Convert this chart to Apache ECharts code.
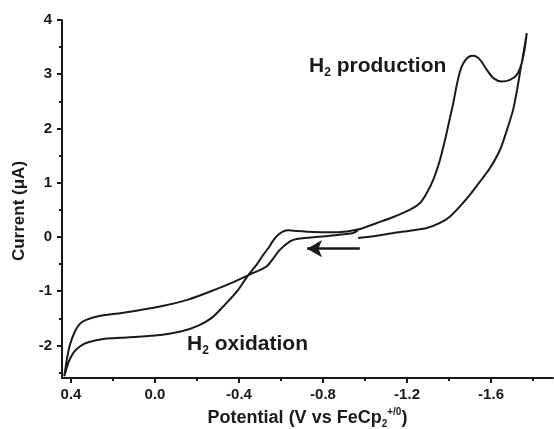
<!DOCTYPE html>
<html>
<head>
<meta charset="utf-8">
<script src="https://cdn.jsdelivr.net/npm/echarts@6/dist/echarts.min.js"></script>
<style>
  html, body { margin: 0; padding: 0; background: #fff; }
  #chart { width: 554px; height: 429px; }
</style>
</head>
<body>
<div id="chart"></div>
<script>
// sweep: start at -0.97 V, go negative to -1.77 V, back to +0.43 V, return to -0.97 V
const potential = [
  // forward, towards -1.77 V
  -0.967, -1.056, -1.135, -1.214, -1.294, -1.357, -1.405, -1.452, -1.500, -1.548,
  -1.595, -1.643, -1.676, -1.705, -1.724, -1.740, -1.757, -1.770,
  // back, H2 production wave
  -1.762, -1.746, -1.722, -1.690, -1.651, -1.611, -1.580, -1.548, -1.516, -1.492,
  -1.468, -1.452, -1.437, -1.420, -1.400, -1.381, -1.357, -1.325, -1.294, -1.262,
  -1.214, -1.135, -1.056, -0.976, -0.913, -0.833, -0.754, -0.675, -0.635, -0.611,
  -0.587, -0.563, -0.540, -0.516, -0.484, -0.452, -0.429, -0.397, -0.333, -0.270,
  -0.206, -0.127, 0.000, 0.159, 0.238, 0.318, 0.357, 0.389, 0.413, 0.432,
  // return, H2 oxidation plateau
  0.420, 0.405, 0.381, 0.357, 0.325, 0.271, 0.159, 0.000, -0.157, -0.286,
  -0.381, -0.460, -0.532, -0.595, -0.643, -0.675, -0.833, -0.944, -0.968
]
const current = [
  -0.018, 0.024, 0.074, 0.116, 0.166, 0.258, 0.379, 0.564, 0.779, 1.024,
  1.271, 1.608, 1.976, 2.343, 2.713, 3.081, 3.449, 3.757,
  3.510, 3.204, 2.989, 2.897, 2.866, 2.928, 3.081, 3.265, 3.339, 3.315,
  3.204, 3.050, 2.805, 2.468, 2.120, 1.792, 1.424, 1.055, 0.810, 0.626,
  0.503, 0.368, 0.258, 0.147, 0.103, 0.085, 0.092, 0.110, 0.122, 0.103,
  0.042, -0.063, -0.203, -0.326, -0.510, -0.663, -0.786, -0.969, -1.247, -1.492,
  -1.634, -1.738, -1.818, -1.860, -1.878, -1.941, -2.015, -2.136, -2.320, -2.567,
  -2.260, -1.983, -1.738, -1.597, -1.523, -1.462, -1.400, -1.300, -1.155, -0.971,
  -0.818, -0.676, -0.541, -0.234, -0.081, -0.037, 0.024, 0.074, 0.134
]

const xMajor = [0.4, 0.0, -0.4, -0.8, -1.2, -1.6]
const xMinor = [0.2, -0.2, -0.6, -1.0, -1.4, -1.8]
const yMajor = [-2, -1, 0, 1, 2, 3, 4]
const yMinor = [-2.5, -1.5, -0.5, 0.5, 1.5, 2.5, 3.5]

// scan direction arrow
const arrowFrom = [-0.975, -0.215]
const arrowTo = [-0.724, -0.215]

const FONT = "'Liberation Sans', Arial, sans-serif"
const INK = '#1a1a1a'

const chart = echarts.init(document.getElementById('chart'))

const xBase = {
  type: 'value',
  gridIndex: 0,
  position: 'bottom',
  inverse: true,
  min: -1.895,
  max: 0.443,
  splitLine: { show: false }
}
const yBase = {
  type: 'value',
  gridIndex: 0,
  position: 'left',
  min: -2.6,
  max: 4,
  splitLine: { show: false }
}

const labelRich = {
  a: { fontFamily: FONT, fontWeight: 'bold', fontSize: 21, lineHeight: 25, fill: INK },
  s: { fontFamily: FONT, fontWeight: 'bold', fontSize: 12, lineHeight: 12, verticalAlign: 'bottom', fill: INK }
}

chart.setOption({
  animation: false,
  backgroundColor: '#fff',
  grid: { left: 62, right: 1, top: 20, bottom: 51, outerBoundsMode: 'none' },
  xAxis: [
    {
      ...xBase,
      name: '{a|Potential (V vs FeCp}{sub|2}{sup|+/0}{a|)}',
      nameLocation: 'middle',
      nameGap: 25,
      nameTextStyle: {
        rich: {
          a: { fontFamily: FONT, fontWeight: 'bold', fontSize: 18, lineHeight: 22, color: INK },
          sub: { fontFamily: FONT, fontWeight: 'bold', fontSize: 10, lineHeight: 10, verticalAlign: 'bottom', color: INK },
          sup: { fontFamily: FONT, fontWeight: 'bold', fontSize: 10, lineHeight: 10, verticalAlign: 'top', color: INK }
        }
      },
      axisLine: { show: true, onZero: false, lineStyle: { color: INK, width: 2 } },
      axisTick: { show: true, customValues: xMajor, length: 5, lineStyle: { color: INK, width: 2 } },
      axisLabel: {
        customValues: xMajor,
        margin: 9,
        formatter: v => v.toFixed(1),
        fontFamily: FONT, fontWeight: 'bold', fontSize: 15, color: INK
      }
    },
    {
      ...xBase,
      axisLine: { show: false, onZero: false },
      axisTick: { show: true, customValues: xMinor, length: 3, lineStyle: { color: INK, width: 2 } },
      axisLabel: { show: false }
    }
  ],
  yAxis: [
    {
      ...yBase,
      name: 'Current (μA)',
      nameLocation: 'middle',
      nameGap: 34,
      nameTextStyle: {
        fontFamily: FONT, fontWeight: 'bold', fontSize: 17, color: INK,
        padding: [0, 24, 0, 0]
      },
      axisLine: { show: true, onZero: false, lineStyle: { color: INK, width: 2 } },
      axisTick: { show: true, customValues: yMajor, length: 5, lineStyle: { color: INK, width: 2 } },
      axisLabel: {
        customValues: yMajor,
        margin: 10,
        fontFamily: FONT, fontWeight: 'bold', fontSize: 15, color: INK
      }
    },
    {
      ...yBase,
      axisLine: { show: false, onZero: false },
      axisTick: { show: true, customValues: yMinor, length: 3, lineStyle: { color: INK, width: 2 } },
      axisLabel: { show: false }
    }
  ],
  graphic: [
    {
      type: 'text', left: 309, top: 56,
      style: { text: '{a|H}{s|2}{a| production}', rich: labelRich }
    },
    {
      type: 'text', left: 187, top: 334,
      style: { text: '{a|H}{s|2}{a| oxidation}', rich: labelRich }
    }
  ],
  series: [
    {
      type: 'line',
      xAxisIndex: 0,
      yAxisIndex: 0,
      data: potential.map((v, i) => [v, current[i]]),
      smooth: 0.25,
      showSymbol: false,
      lineStyle: { color: INK, width: 2 },
      silent: true,
      markLine: {
        silent: true,
        symbol: ['none', 'arrow'],
        symbolSize: [13, 15],
        label: { show: false },
        lineStyle: { color: INK, width: 2.5, type: 'solid' },
        emphasis: { disabled: true },
        data: [[{ coord: arrowFrom }, { coord: arrowTo }]]
      }
    }
  ]
})
</script>
</body>
</html>
